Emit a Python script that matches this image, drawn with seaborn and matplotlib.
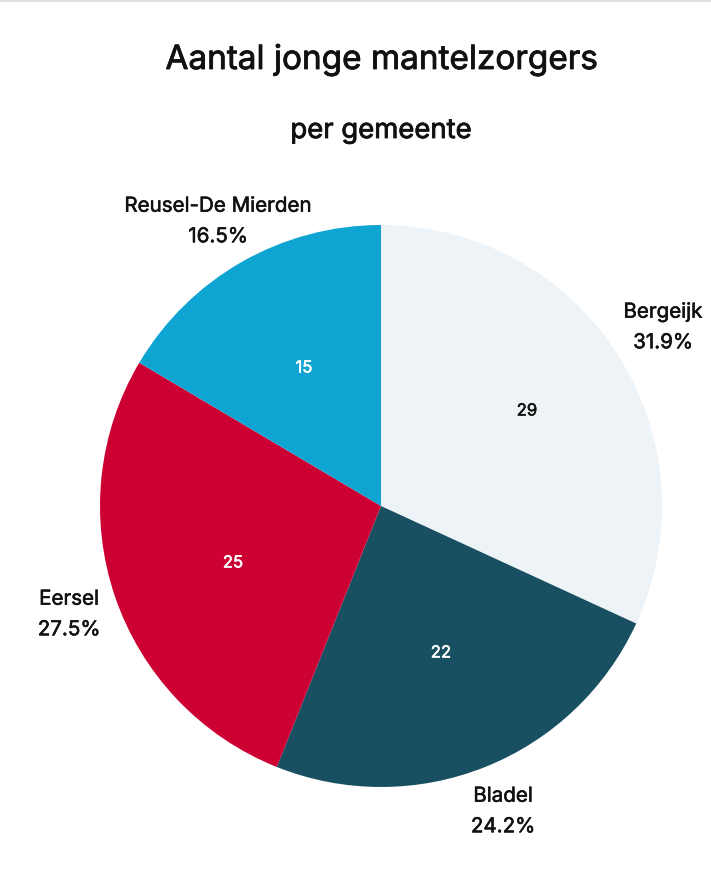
import matplotlib.pyplot as plt
import matplotlib.patheffects as pe
import seaborn as sns

gemeenten = ['Bergeijk', 'Bladel', 'Eersel', 'Reusel-De Mierden']
aantallen = [29, 22, 25, 15]
percentages = ['31.9%', '24.2%', '27.5%', '16.5%']
kleuren = ['#EEF3F8', '#185062', '#CC0033', '#0EA5D3']
tekstkleuren = ['#111111', '#FFFFFF', '#FFFFFF', '#FFFFFF']

W, H = 711, 875

sns.set_theme(style='white')
plt.rcParams['font.family'] = ['Inter', 'DejaVu Sans']

fig = plt.figure(figsize=(W / 100, H / 100), dpi=100)

# pie centre and radius measured in pixels, extra margin around the pie
straal = 281
marge = 1.02
half = straal * marge
ax = fig.add_axes([(381 - half) / W, 1 - (506 + half) / H, 2 * half / W, 2 * half / H])
wedges, _ = ax.pie(aantallen, colors=sns.color_palette(kleuren), startangle=90,
                   counterclock=False, radius=1, wedgeprops={'linewidth': 0})
ax.set_xlim(-marge, marge)
ax.set_ylim(-marge, marge)


# the installed Inter has one weight, a thin stroke makes it a bit heavier
def dikker(t, breedte=0.4):
    t.set_path_effects([pe.withStroke(linewidth=breedte, foreground=t.get_color())])


# values inside the slices
waarde_pos = [(527, 411), (441, 653), (233, 563), (304, 368)]
for a, (x, y), c in zip(aantallen, waarde_pos, tekstkleuren):
    t = fig.text(x / W, 1 - y / H, str(a), color=c, fontsize=12,
                 ha='center', va='center')
    dikker(t)

# labels outside the pie
label_pos = [(663, 328), (503, 812), (69, 615), (218, 222)]
for g, p, (x, y) in zip(gemeenten, percentages, label_pos):
    t = fig.text(x / W, 1 - y / H, g + '\n' + p, color='#111111', fontsize=14.8,
                 ha='center', va='center', linespacing=1.9)
    dikker(t)

t = fig.text(382 / W, 1 - 60 / H, 'Aantal jonge mantelzorgers', color='#111111', fontsize=24,
             ha='center', va='center')
dikker(t, 0.6)
t = fig.text(381 / W, 1 - 131 / H, 'per gemeente', color='#111111', fontsize=19.8,
             ha='center', va='center')
dikker(t, 0.6)

# thin grey strip along the top edge of the screenshot
fig.add_artist(plt.Rectangle((0, 1 - 2 / H), 1, 2 / H, transform=fig.transFigure,
                             color='#E2E2E2', lw=0))

fig.savefig('out.png', dpi=100)
